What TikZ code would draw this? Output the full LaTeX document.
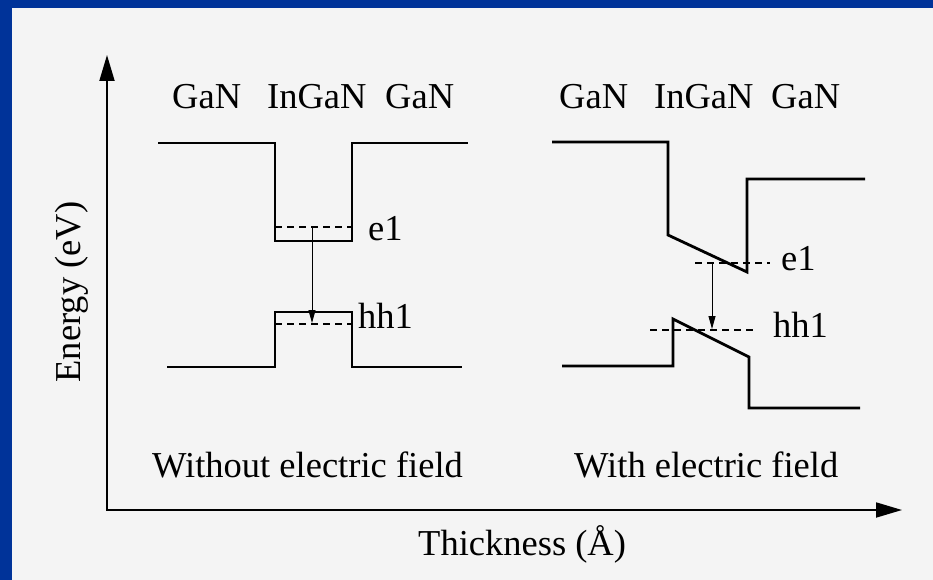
\documentclass[tikz,border=0pt]{standalone}
\usepackage{fontspec}
\setmainfont{Liberation Serif}
\usetikzlibrary{arrows.meta}
\definecolor{frameblue}{RGB}{0,51,153}
\definecolor{paper}{RGB}{244,244,244}
\begin{document}
\begin{tikzpicture}[x=1pt,y=-1pt,
  band/.style={line width=2.8pt, line join=miter},
  level/.style={line width=1.6pt, dash pattern=on 7pt off 5pt},
  axis/.style={line width=1.8pt, {Triangle[length=26pt,width=15pt]}-{Triangle[length=26pt,width=15pt]}},
  trans/.style={line width=0.9pt, -{Triangle[length=13pt,width=7pt]}},
  lbl/.style={font=\fontsize{36.5}{40}\selectfont, anchor=base west, inner sep=0pt},
]
\fill[frameblue] (0,0) rectangle (933,580);
\fill[paper] (12,8) rectangle (933,580);
\useasboundingbox (0,0) rectangle (933,580);

% axes
\coordinate (origin) at (107,510);
\coordinate (ytop) at (107,55);
\coordinate (xend) at (902,510);
\draw[axis] (ytop) -- (origin) -- (xend);
\node[font=\fontsize{36.5}{40}\selectfont, rotate=90, inner sep=0pt] (energy) at (72,292) {Energy (eV)};
\node[lbl] (thick) at (418,555) {Thickness (Å)};

% left diagram
\node[lbl] (ganLa) at (172,109) {GaN};
\node[lbl] (inganL) at (267,109) {InGaN};
\node[lbl] (ganLb) at (385,109) {GaN};
\draw[band] (158,143) -- (275,143) -- (275,241) -- (352,241) -- (352,143) -- (468,143);
\draw[band] (167,367) -- (275,367) -- (275,312) -- (352,312) -- (352,367) -- (462,367);
\draw[level] (275,227) -- (352,227);
\draw[level] (275,324) -- (352,324);
\coordinate (e1L) at (312,227);
\coordinate (h1L) at (312,323);
\draw[trans] (e1L) -- (h1L);
\node[lbl] (e1labL) at (368,240) {e1};
\node[lbl] (hh1labL) at (358,328) {hh1};
\node[lbl] (without) at (152,477) {Without electric field};

% right diagram
\node[lbl] (ganRa) at (559,109) {GaN};
\node[lbl] (inganR) at (654,109) {InGaN};
\node[lbl] (ganRb) at (771,109) {GaN};
\draw[band] (552,142) -- (668,142) -- (668,235) -- (747,272) -- (747,179) -- (865,179);
\draw[band] (562,366) -- (673,366) -- (673,319) -- (749,357) -- (749,408) -- (860,408);
\draw[level] (695,263) -- (770,263);
\draw[level] (650,330) -- (757,330);
\coordinate (e1R) at (712,263);
\coordinate (h1R) at (712,329);
\draw[trans] (e1R) -- (h1R);
\node[lbl] (e1labR) at (781,270) {e1};
\node[lbl] (hh1labR) at (773,337) {hh1};
\node[lbl] (with) at (574,477) {With electric field};
\end{tikzpicture}
\end{document}
